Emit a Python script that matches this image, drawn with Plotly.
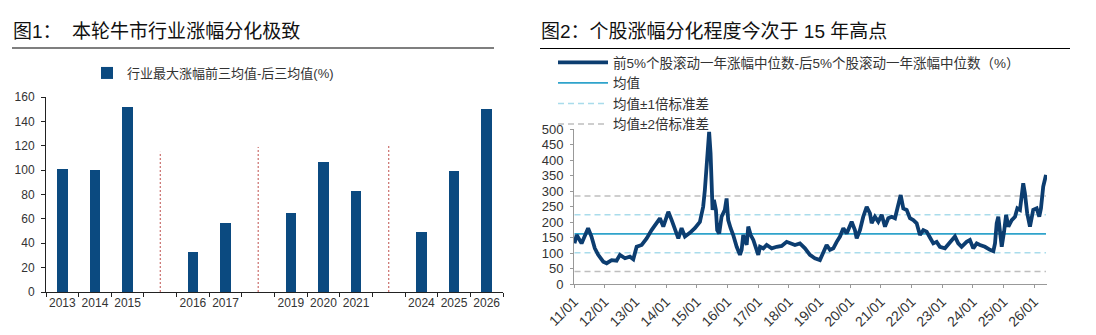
import plotly.graph_objects as go

# ---------------- Data: chart 1 ----------------
bar_categories = ["2013", "2014", "2015", " ", "2016", "2017", "  ",
                  "2019", "2020", "2021", "   ", "2024", "2025", "2026"]
bar_values = [101, 100, 152, None, 33, 57, None, 65, 107, 83, None, 49, 99, 150]
separator_categories = [" ", "  ", "   "]
separator_heights = [115, 119, 120]
bar_series_name = "行业最大涨幅前三均值-后三均值(%)"

# ---------------- Data: chart 2 ----------------
line_dates = [
    "2011-01-07", "2011-02-02", "2011-04-01", "2011-05-10", "2011-06-18", "2011-07-28",
    "2011-09-06", "2011-10-16", "2011-12-15", "2012-01-25", "2012-03-24", "2012-05-22",
    "2012-07-01", "2012-08-30", "2012-10-28", "2012-12-07", "2013-01-16", "2013-03-17",
    "2013-05-15", "2013-07-13", "2013-09-11", "2013-10-20", "2013-11-29", "2014-01-28",
    "2014-03-09", "2014-04-17", "2014-05-27", "2014-07-05", "2014-08-14", "2014-10-12",
    "2014-12-10", "2015-02-08", "2015-03-19", "2015-04-08", "2015-04-28", "2015-05-17",
    "2015-05-29", "2015-06-15", "2015-06-27", "2015-07-09", "2015-07-25", "2015-08-18",
    "2015-09-02", "2015-09-26", "2015-10-24", "2015-12-02", "2015-12-23", "2016-01-11",
    "2016-02-09", "2016-03-11", "2016-04-21", "2016-05-30", "2016-06-19", "2016-07-08",
    "2016-07-29", "2016-08-18", "2016-09-06", "2016-10-05", "2016-11-05", "2016-12-15",
    "2017-01-03", "2017-01-24", "2017-03-04", "2017-04-13", "2017-06-12", "2017-08-10",
    "2017-10-09", "2017-12-07", "2018-01-16", "2018-03-16", "2018-05-14", "2018-07-13",
    "2018-09-10", "2018-11-08", "2019-01-07", "2019-02-16", "2019-03-28", "2019-05-07",
    "2019-06-16", "2019-07-26", "2019-09-03", "2019-10-13", "2019-11-22", "2020-01-20",
    "2020-02-28", "2020-03-20", "2020-04-28", "2020-06-06", "2020-07-17", "2020-08-25",
    "2020-09-14", "2020-10-23", "2020-12-02", "2021-01-12", "2021-02-20", "2021-03-31",
    "2021-05-11", "2021-06-19", "2021-07-28", "2021-08-26", "2021-09-26", "2021-11-05",
    "2021-12-14", "2022-01-23", "2022-03-04", "2022-04-12", "2022-05-22", "2022-07-01",
    "2022-08-09", "2022-09-18", "2022-10-28", "2022-12-06", "2023-02-04", "2023-03-15",
    "2023-04-25", "2023-06-03", "2023-07-12", "2023-08-21", "2023-10-20", "2023-11-28",
    "2024-01-07", "2024-02-17", "2024-03-27", "2024-05-25", "2024-07-24", "2024-09-02",
    "2024-09-22", "2024-10-12", "2024-10-31", "2024-11-21", "2024-12-11", "2025-01-08",
    "2025-02-01", "2025-02-28", "2025-04-09", "2025-05-18", "2025-06-15", "2025-07-16",
    "2025-08-05", "2025-08-24", "2025-09-13", "2025-10-10", "2025-11-12", "2025-12-21",
    "2026-01-31", "2026-03-03", "2026-03-23", "2026-04-19", "2026-05-22",
]
line_values = [
    131, 158, 131, 158, 180, 153,
    115, 94, 72, 67, 77, 75,
    94, 83, 88, 80, 120, 126,
    147, 174, 196, 212, 185, 233,
    206, 180, 147, 180, 153, 165,
    180, 200, 249, 303, 368, 465,
    491, 422, 314, 239, 271, 239,
    174, 163, 217, 239, 276, 206,
    180, 158, 120, 94, 110, 158,
    142, 126, 185, 158, 142, 104,
    94, 120, 115, 126, 115, 120,
    123, 136, 131, 126, 131, 115,
    94, 83, 77, 104, 126, 110,
    115, 136, 153, 180, 163, 201,
    174, 147, 174, 217, 249, 228,
    196, 217, 201, 223, 185, 212,
    217, 212, 249, 287, 244, 239,
    212, 206, 196, 158, 174, 169,
    150, 131, 136, 120, 115, 126,
    142, 153, 131, 120, 136, 142,
    115, 131, 126, 120, 110, 106,
    131, 196, 217, 174, 120, 169,
    223, 185, 206, 217, 244, 239,
    293, 325, 293, 228, 185, 239,
    244, 217, 244, 314, 352,
]
mean_value = 162
band_1sd = [101, 223]
band_2sd = [40, 284]
line_names = ["前5%个股滚动一年涨幅中位数-后5%个股滚动一年涨幅中位数（%）",
              "均值", "均值±1倍标准差", "均值±2倍标准差"]

title_left = "图1：  本轮牛市行业涨幅分化极致"
title_right = "图2：个股涨幅分化程度今次于 15 年高点"

# ---------------- Styling ----------------
W, H = 1096, 335
FONT = "Liberation Sans, Arial, Noto Sans CJK SC, sans-serif"
BAR_COLOR = "#0B4A80"
LINE_COLOR = "#0C3D70"
MEAN_COLOR = "#2FA3CB"
SD1_COLOR = "#A9DCEB"
SD2_COLOR = "#BEBEBE"


def px_x(p):
    return p / W


def px_y(p):
    return 1 - p / H


fig = go.Figure()

# Chart 1 bars
fig.add_trace(go.Bar(
    x=bar_categories, y=bar_values, name=bar_series_name,
    marker=dict(color=BAR_COLOR, line=dict(width=0)), width=0.32,
    xaxis="x", yaxis="y", legend="legend", showlegend=True,
))

# Chart 2 reference lines (drawn first, below the main line)
x_start, x_end = line_dates[0], line_dates[-1]
fig.add_trace(go.Scatter(
    x=[x_start, x_end], y=[mean_value, mean_value], mode="lines", name=line_names[1],
    line=dict(color=MEAN_COLOR, width=1.8), legendrank=2,
    xaxis="x2", yaxis="y2", legend="legend2",
))
fig.add_trace(go.Scatter(
    x=[x_start, x_end, None, x_start, x_end],
    y=[band_1sd[1], band_1sd[1], None, band_1sd[0], band_1sd[0]],
    mode="lines", name=line_names[2], legendrank=3,
    line=dict(color=SD1_COLOR, width=1.5, dash="6px,4px"),
    xaxis="x2", yaxis="y2", legend="legend2",
))
fig.add_trace(go.Scatter(
    x=[x_start, x_end, None, x_start, x_end],
    y=[band_2sd[1], band_2sd[1], None, band_2sd[0], band_2sd[0]],
    mode="lines", name=line_names[3], legendrank=4,
    line=dict(color=SD2_COLOR, width=1.5, dash="6px,4px"),
    xaxis="x2", yaxis="y2", legend="legend2",
))
fig.add_trace(go.Scatter(
    x=line_dates, y=line_values, mode="lines", name=line_names[0],
    line=dict(color=LINE_COLOR, width=3.8), legendrank=1,
    xaxis="x2", yaxis="y2", legend="legend2",
))

shapes = []
for cat, h in zip(separator_categories, separator_heights):
    shapes.append(dict(type="line", xref="x", yref="y", x0=cat, x1=cat, y0=0, y1=h,
                       line=dict(color="#C0504D", width=1, dash="2px,2px")))
# title underlines
shapes.append(dict(type="line", xref="paper", yref="paper",
                   x0=px_x(12), x1=px_x(494), y0=px_y(48), y1=px_y(48),
                   line=dict(color="#000", width=1.2)))
shapes.append(dict(type="line", xref="paper", yref="paper",
                   x0=px_x(540), x1=px_x(1070), y0=px_y(48.5), y1=px_y(48.5),
                   line=dict(color="#000", width=1.2)))

annotations = [
    dict(text=title_left, xref="paper", yref="paper", x=px_x(11), y=px_y(32),
         xanchor="left", yanchor="middle", showarrow=False,
         font=dict(size=19, color="#111", family=FONT)),
    dict(text=title_right, xref="paper", yref="paper", x=px_x(539), y=px_y(32),
         xanchor="left", yanchor="middle", showarrow=False,
         font=dict(size=19, color="#111", family=FONT)),
]

fig.update_layout(
    width=W, height=H, autosize=False,
    margin=dict(l=0, r=0, t=0, b=0, autoexpand=False),
    paper_bgcolor="white", plot_bgcolor="white",
    font=dict(family=FONT, size=12, color="#333"),
    bargap=0,
    shapes=shapes, annotations=annotations,
    xaxis=dict(
        domain=[px_x(46), px_x(503)], anchor="y", automargin=False,
        type="category", categoryorder="array", categoryarray=bar_categories,
        range=[-0.5, len(bar_categories) - 0.5], tickangle=0,
        showline=True, linecolor="#222", linewidth=1,
        ticks="outside", tickson="boundaries", ticklen=4, tickcolor="#222",
        showgrid=False, zeroline=False, fixedrange=True,
        tickfont=dict(size=12, color="#333"),
    ),
    yaxis=dict(
        domain=[px_y(292), px_y(97)], anchor="x", automargin=False,
        range=[0, 160], dtick=20, ticklabelstandoff=4,
        showline=True, linecolor="#222", linewidth=1,
        ticks="outside", ticklen=4, tickcolor="#222",
        showgrid=False, zeroline=False,
        tickfont=dict(size=12, color="#333"),
    ),
    xaxis2=dict(
        domain=[px_x(574), px_x(1047)], anchor="y2", automargin=False,
        type="date", range=["2011-01-01", "2026-06-03"],
        tick0="2011-01-01", dtick="M12", tickformat="%y/%m", tickangle=-45,
        showline=True, linecolor="#999", linewidth=1,
        ticks="outside", ticklen=3, tickcolor="#999",
        showgrid=False, zeroline=False,
        tickfont=dict(size=14, color="#333"),
    ),
    yaxis2=dict(
        domain=[px_y(284), px_y(129)], anchor="x2", automargin=False,
        range=[0, 500], dtick=50, ticklabelstandoff=4,
        showline=True, linecolor="#999", linewidth=1,
        ticks="outside", ticklen=3, tickcolor="#999",
        showgrid=False, zeroline=False,
        tickfont=dict(size=13, color="#333"),
    ),
    legend=dict(
        x=px_x(87), y=px_y(58), xanchor="left", yanchor="top",
        bgcolor="rgba(0,0,0,0)", font=dict(size=13, color="#333", family=FONT),
        itemwidth=30, orientation="v",
    ),
    legend2=dict(
        x=px_x(553), y=px_y(47), xanchor="left", yanchor="top",
        bgcolor="rgba(0,0,0,0)", font=dict(size=13.5, color="#333", family=FONT),
        itemwidth=50, orientation="v", tracegroupgap=0,
        traceorder="normal",
    ),
)

fig.write_html("out.html")
